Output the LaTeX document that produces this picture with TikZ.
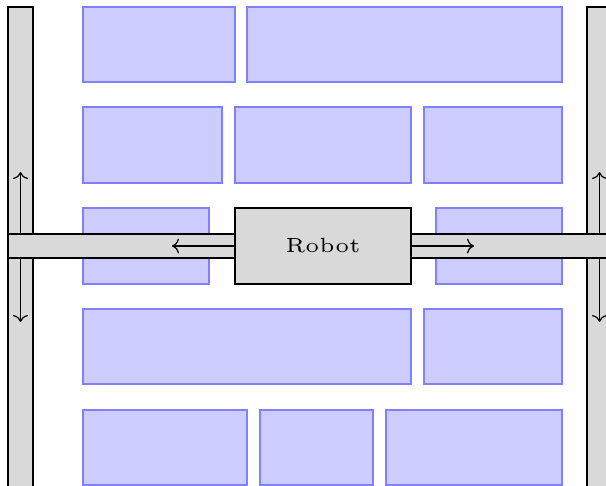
\documentclass[tikz,border=0pt]{standalone}
\usetikzlibrary{arrows.meta}
\tikzset{
  railbox/.style={draw=black, fill=gray!30, line width=1.2pt},
  shelf/.style={draw=blue!50, fill=blue!20, line width=1.2pt},
  robotbox/.style={draw=black, fill=gray!30, line width=1.2pt, inner sep=0pt},
  moveto/.style={-{To[length=7pt,width=15pt]}, line width=1.2pt},
}
\begin{document}
\begin{tikzpicture}[x=1pt,y=-1pt]
\useasboundingbox (0,0) rectangle (606,486);
\clip (0,0) rectangle (606,486);
% rails
\draw[railbox] (8,7) rectangle (33,500);
\draw[railbox] (587,7) rectangle (620,500);
% shelves
\draw[shelf] (83,7) rectangle (235,82);
\draw[shelf] (247,7) rectangle (562,82);
\draw[shelf] (83,107) rectangle (222,183);
\draw[shelf] (235,107) rectangle (411,183);
\draw[shelf] (424,107) rectangle (562,183);
\draw[shelf] (83,208) rectangle (209,284);
\draw[shelf] (436,208) rectangle (562,284);
\draw[shelf] (83,309) rectangle (411,384);
\draw[shelf] (424,309) rectangle (562,384);
\draw[shelf] (83,410) rectangle (247,485);
\draw[shelf] (260,410) rectangle (373,485);
\draw[shelf] (386,410) rectangle (562,485);
% bridge
\draw[railbox] (8,234) rectangle (620,258);
% robot
\node[robotbox, minimum width=176pt, minimum height=76pt] (robot) at (323,246)
  {\scalebox{4.1}{\fontsize{5}{6}\selectfont Robot}};
% arrow end points
\coordinate (lw) at (172,246);
\coordinate (re) at (474,246);
\coordinate (lus) at (20.5,234);
\coordinate (lut) at (20.5,172);
\coordinate (lds) at (20.5,258);
\coordinate (ldt) at (20.5,322);
\coordinate (rus) at (599.5,234);
\coordinate (rut) at (599.5,172);
\coordinate (rds) at (599.5,258);
\coordinate (rdt) at (599.5,322);
\draw[moveto] (robot.west) -- (lw);
\draw[moveto] (robot.east) -- (re);
\draw[moveto] (lus) -- (lut);
\draw[moveto] (lds) -- (ldt);
\draw[moveto] (rus) -- (rut);
\draw[moveto] (rds) -- (rdt);
\end{tikzpicture}
\end{document}
